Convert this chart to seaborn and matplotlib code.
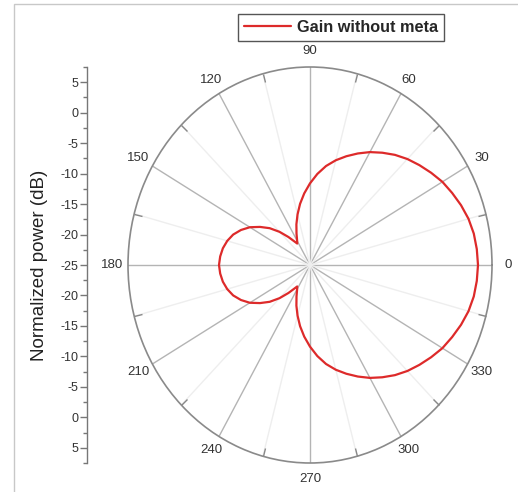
import numpy as np
import pandas as pd
import matplotlib
matplotlib.use("Agg")
import matplotlib.pyplot as plt
import seaborn as sns
from matplotlib.patches import Rectangle

# ---------------- data ----------------
angles_deg = [0, 5, 10, 15, 20, 25, 30, 35, 40, 45, 50, 55, 60, 65, 70, 75, 80, 85, 90,
              95, 100, 105, 110, 115, 120, 123, 125, 130, 135, 140, 145, 150, 155, 160,
              165, 170, 175, 180,
              185, 190, 195, 200, 205, 210, 215, 220, 225, 230, 235, 237, 240, 245, 250,
              255, 260, 265, 270, 275, 280, 285, 290, 295, 300, 305, 310, 315, 320, 325,
              330, 335, 340, 345, 350, 355, 360]
gain_db = [5.0, 4.9, 4.7, 4.3, 3.7, 3.0, 2.3, 1.4, 0.5, -0.4, -1.4, -2.5, -3.6, -4.8, -6.0,
           -7.2, -8.5, -10.0, -11.6,
           -13.2, -14.8, -16.4, -17.9, -19.3, -20.4, -20.8, -20.4, -19.0, -17.3, -15.6,
           -14.1, -12.6, -11.4, -10.4, -9.7, -9.2, -8.9, -8.75,
           -8.9, -9.2, -9.7, -10.4, -11.4, -12.6, -14.1, -15.6, -17.3, -19.0, -20.4, -20.8,
           -20.4, -19.3, -17.9, -16.4, -14.8, -13.2, -11.6, -10.0, -8.5, -7.2, -6.0, -4.8,
           -3.6, -2.5, -1.4, -0.4, 0.5, 1.4, 2.3, 3.0, 3.7, 4.3, 4.7, 4.9, 5.0]
series_label = "Gain without meta"
theta_ticks = [0, 30, 60, 90, 120, 150, 180, 210, 240, 270, 300, 330]
theta_ticklabels = ["0", "30", "60", "90", "120", "150", "180", "210", "240", "270", "300", "330"]
r_min, r_max = -25, 7.5
radial_ticks = [-30, -25, -20, -15, -10, -5, 0, 5, 10, 15, 20, 25, 30]
radial_ticklabels = ["5", "0", "-5", "-10", "-15", "-20", "-25", "-20", "-15", "-10", "-5", "0", "5"]

df = pd.DataFrame({"theta": np.deg2rad(angles_deg), "gain": gain_db})

# ---------------- style ----------------
sns.set_style("white")
plt.rcParams['font.family'] = ['Liberation Sans', 'DejaVu Sans']

W, H = 518, 492
fig = plt.figure(figsize=(W / 100, H / 100), dpi=100)

# outer light frame (screenshot border)
fig.add_artist(Rectangle((14 / W, -0.05), 1.2, (H - 4) / H + 0.05, transform=fig.transFigure,
                         fill=False, edgecolor="#c8c8c8", linewidth=1.0))

# polar axes (slightly elliptical like the reference)
cx, cy, rx, ry = 310, 265, 182, 198
ax = fig.add_axes([(cx - rx) / W, (H - cy - ry) / H, 2 * rx / W, 2 * ry / H], projection="polar")
ax.set_aspect("auto")
ax.set_facecolor("none")

sns.lineplot(data=df, x="theta", y="gain", ax=ax, sort=False, estimator=None,
             color="#dd2a2a", linewidth=1.6, label=series_label)

ax.set_rlim(r_min, r_max)
ax.set_yticks([])
ax.set_xticks(np.deg2rad(theta_ticks))
ax.set_xticklabels(theta_ticklabels)
ax.set_xticks(np.deg2rad(np.arange(15, 360, 30)), minor=True)
ax.grid(which="major", axis="x", color="#b4b4b4", linewidth=1.0)
ax.grid(which="minor", axis="x", color="#eeeeee", linewidth=1.0)
ax.tick_params(axis="x", which="major", labelsize=9.5, labelcolor="#333333", pad=4.5,
               bottom=False, top=False, length=0)
ax.tick_params(axis="x", which="minor", bottom=False, top=True, direction="in", length=6,
               color="#888888", width=1)
ax.spines["polar"].set_color("#8a8a8a")
ax.spines["polar"].set_linewidth(1.2)
ax.set_xlabel("")
ax.set_ylabel("")

leg = ax.legend(loc="center", bbox_to_anchor=(341 / W, 1 - 27.5 / H),
                bbox_transform=fig.transFigure, frameon=True, fancybox=False,
                handlelength=2.9, handletextpad=0.4, borderpad=0.35,
                prop={"weight": "bold", "size": 11.7})
leg.get_frame().set_edgecolor("#555555")
leg.get_frame().set_linewidth(1.0)
leg.get_frame().set_alpha(1)

# left radial scale axis
ax2 = fig.add_axes([87 / W, (H - cy - ry) / H, 0.001, 2 * ry / H])
ax2.set_facecolor("none")
ax2.set_ylim(-(r_max - r_min), r_max - r_min)
ax2.set_xticks([])
ax2.set_yticks(radial_ticks)
ax2.set_yticklabels(radial_ticklabels)
ax2.set_yticks(np.arange(-32.5, 33, 2.5), minor=True)
for s in ["top", "right", "bottom"]:
    ax2.spines[s].set_visible(False)
ax2.spines["left"].set_color("#777777")
ax2.spines["left"].set_linewidth(1.0)
ax2.tick_params(axis="y", which="major", left=True, length=5, width=1, color="#777777",
                labelsize=9, labelcolor="#333333", pad=1)
ax2.tick_params(axis="y", which="minor", left=True, length=3, width=1, color="#777777")
ax2.set_ylabel("Normalized power (dB)", fontsize=13.5, color="#222222", labelpad=9)

fig.savefig("out.png", dpi=100)
